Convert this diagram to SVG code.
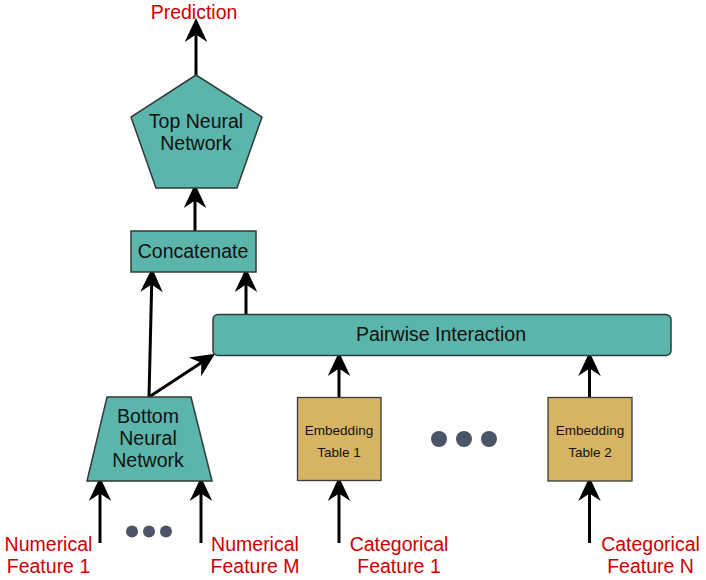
<svg xmlns="http://www.w3.org/2000/svg" width="706" height="580" viewBox="0 0 706 580">
<style>
.teal{fill:#5bb5aa;stroke:#2f3a3a;stroke-width:1.5}
.gold{fill:#d7b464;stroke:#3a3a3a;stroke-width:1.3}
.t{font-family:"Liberation Sans",Arial,sans-serif;font-size:19.5px;fill:#111;text-anchor:middle}
.s{font-family:"Liberation Sans",Arial,sans-serif;font-size:13.5px;fill:#111;text-anchor:middle}
.r{font-family:"Liberation Sans",Arial,sans-serif;font-size:19.5px;fill:#cc0000;text-anchor:middle}
.a{stroke:#000;stroke-width:3;fill:none;marker-end:url(#ah)}
.dot{fill:#4a5568}
</style>
<defs>
<marker id="ah" markerUnits="userSpaceOnUse" markerWidth="30" markerHeight="30" refX="0" refY="0" viewBox="-10 -10 20 20" orient="auto" overflow="visible">
<path d="M8,0 L-8,-7.5 L-3,0 L-8,7.5 Z" fill="#000"/>
</marker>
</defs>
<g id="connectors">
<line class="a" x1="196" y1="76" x2="196" y2="30"/>
<line class="a" x1="195" y1="231" x2="195" y2="196"/>
<line class="a" x1="246" y1="314" x2="246" y2="280"/>
<line class="a" x1="149" y1="397" x2="151.8" y2="280"/>
<line class="a" x1="149" y1="397" x2="205" y2="360.3"/>
<line class="a" x1="339" y1="397" x2="339" y2="364"/>
<line class="a" x1="589.5" y1="397.5" x2="589.5" y2="364"/>
<line class="a" x1="100" y1="543" x2="100" y2="489"/>
<line class="a" x1="201" y1="543" x2="201" y2="489"/>
<line class="a" x1="339" y1="543" x2="339" y2="489"/>
<line class="a" x1="589.5" y1="543" x2="589.5" y2="489"/>
</g>
<g id="prediction"><text class="r" x="194" y="19">Prediction</text></g>
<g id="top-nn">
<polygon class="teal" points="196,75 262,117 237,188 156,188 131,117"/>
<text class="t" x="196" y="128">Top Neural</text>
<text class="t" x="196" y="150">Network</text>
</g>
<g id="concatenate">
<rect class="teal" x="131" y="231" width="125" height="41"/>
<text class="t" x="193" y="258">Concatenate</text>
</g>
<g id="pairwise">
<rect class="teal" x="213" y="314.5" width="458" height="41" rx="5"/>
<text class="t" x="441" y="341">Pairwise Interaction</text>
</g>
<g id="bottom-nn">
<polygon class="teal" points="107,397 191,397 212,481 87,481"/>
<text class="t" x="148" y="423">Bottom</text>
<text class="t" x="148" y="445">Neural</text>
<text class="t" x="148" y="467">Network</text>
</g>
<g id="emb1">
<rect class="gold" x="297.5" y="397.5" width="83.5" height="83"/>
<text class="s" x="339" y="435">Embedding</text>
<text class="s" x="339" y="457">Table 1</text>
</g>
<g id="emb2">
<rect class="gold" x="548" y="397.5" width="84" height="83.5"/>
<text class="s" x="590" y="435">Embedding</text>
<text class="s" x="590" y="457">Table 2</text>
</g>
<g id="dots-mid">
<circle class="dot" cx="439" cy="439" r="8"/>
<circle class="dot" cx="464" cy="439" r="8"/>
<circle class="dot" cx="489" cy="439" r="8"/>
</g>
<g id="dots-num">
<circle class="dot" cx="132" cy="531.5" r="6"/>
<circle class="dot" cx="149" cy="531.5" r="6"/>
<circle class="dot" cx="166" cy="531.5" r="6"/>
</g>
<g id="num1"><text class="r" x="48.5" y="551">Numerical</text><text class="r" x="48.5" y="573">Feature 1</text></g>
<g id="numM"><text class="r" x="255" y="551">Numerical</text><text class="r" x="255" y="573">Feature M</text></g>
<g id="cat1"><text class="r" x="399" y="551">Categorical</text><text class="r" x="399" y="573">Feature 1</text></g>
<g id="catN"><text class="r" x="650.5" y="551">Categorical</text><text class="r" x="650.5" y="573">Feature N</text></g>
</svg>
